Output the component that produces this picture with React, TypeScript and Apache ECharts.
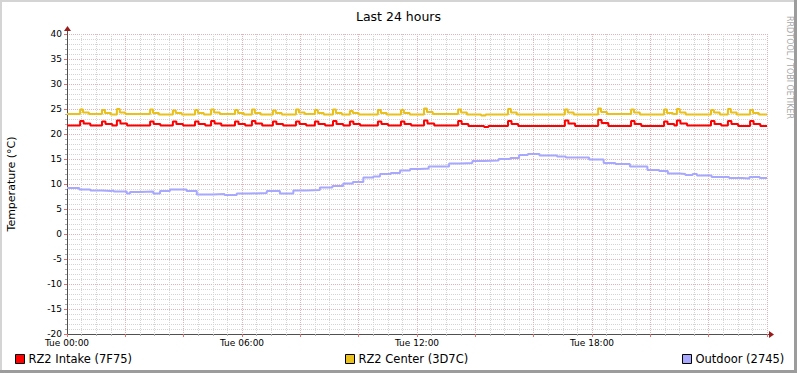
import React, { useEffect, useRef } from "react";
import * as echarts from "echarts";

const titleText = "Last 24 hours";
const yTitle = "Temperature (°C)";
const watermark = "RRDTOOL / TOBI OETIKER";
const xTickLabels = ["Tue 00:00", "Tue 06:00", "Tue 12:00", "Tue 18:00"];
const seriesNames = ["RZ2 Intake (7F75)", "RZ2 Center (3D7C)", "Outdoor (2745)"];
const seriesColors = ["#FF0000", "#EAC01A", "#A8A8FF"];

// [hour, °C] change points (step lines)
const intake: number[][] = [
  [0, 21.7],
  [0.45, 22.6], [0.57, 22.1], [0.8, 21.7],
  [1.2, 22.5], [1.32, 22.0], [1.55, 21.7],
  [1.71, 22.7], [1.83, 22.1], [2.06, 21.7],
  [2.85, 22.5], [2.97, 22.0], [3.2, 21.7],
  [3.63, 22.5], [3.75, 22.0], [3.98, 21.7],
  [4.39, 22.5], [4.51, 22.0], [4.74, 21.7],
  [4.94, 22.6], [5.06, 22.1], [5.29, 21.7],
  [5.76, 22.5], [5.88, 22.0], [6.11, 21.7],
  [6.34, 22.6], [6.46, 22.1], [6.69, 21.7],
  [7.06, 22.5], [7.18, 22.0], [7.41, 21.7],
  [7.85, 22.5], [7.97, 22.0], [8.2, 21.7],
  [8.5, 22.5], [8.62, 22.0], [8.85, 21.7],
  [9.12, 22.6], [9.24, 22.0], [9.47, 21.7],
  [9.7, 22.5], [9.82, 22.0], [10.05, 21.7],
  [10.66, 22.5], [10.78, 22.0], [11.01, 21.7],
  [11.45, 22.5], [11.57, 22.0], [11.8, 21.7],
  [12.24, 22.7], [12.36, 22.1], [12.59, 21.7],
  [13.41, 22.6], [13.53, 22.0], [13.76, 21.6],
  [14.3, 21.4], [14.45, 21.6],
  [15.12, 22.6], [15.24, 22.0], [15.47, 21.6],
  [17.07, 22.7], [17.19, 22.1], [17.42, 21.6],
  [18.21, 22.8], [18.33, 22.2], [18.56, 21.6],
  [19.34, 22.6], [19.46, 22.0], [19.69, 21.6],
  [20.47, 22.5], [20.59, 22.0], [20.82, 21.7],
  [20.91, 22.7], [21.03, 22.1], [21.26, 21.7],
  [22.08, 22.6], [22.2, 22.0], [22.43, 21.7],
  [22.66, 22.6], [22.78, 22.0], [23.01, 21.6],
  [23.42, 22.6], [23.54, 22.0], [23.77, 21.6],
  [24, 21.6],
];

const center: number[][] = [
  [0, 24.0],
  [0.45, 24.9], [0.55, 24.3], [0.75, 24.0],
  [1.2, 24.8], [1.3, 24.2], [1.5, 23.9],
  [1.71, 25.0], [1.81, 24.3], [2.0, 24.0],
  [2.85, 24.9], [2.95, 24.2], [3.15, 23.9],
  [3.63, 24.7], [3.73, 24.2], [3.93, 23.9],
  [4.39, 24.8], [4.49, 24.2], [4.69, 23.9],
  [4.94, 24.9], [5.04, 24.3], [5.24, 24.0],
  [5.76, 24.8], [5.86, 24.2], [6.06, 23.9],
  [6.34, 24.9], [6.44, 24.2], [6.64, 23.9],
  [7.06, 24.7], [7.16, 24.2], [7.36, 23.9],
  [7.85, 24.9], [7.95, 24.3], [8.15, 24.0],
  [8.5, 24.8], [8.6, 24.2], [8.8, 23.9],
  [9.12, 24.9], [9.22, 24.2], [9.42, 23.9],
  [9.7, 24.6], [9.8, 24.2], [10.0, 23.9],
  [10.66, 24.8], [10.76, 24.2], [10.96, 23.9],
  [11.45, 24.8], [11.55, 24.2], [11.75, 23.9],
  [12.24, 25.1], [12.34, 24.4], [12.54, 24.0],
  [13.41, 24.9], [13.51, 24.3], [13.71, 23.9],
  [14.2, 23.7], [14.35, 23.9],
  [15.12, 25.0], [15.22, 24.3], [15.42, 23.9],
  [17.07, 24.9], [17.17, 24.3], [17.37, 23.9],
  [18.21, 25.1], [18.31, 24.4], [18.51, 24.0],
  [19.34, 24.9], [19.44, 24.3], [19.64, 23.9],
  [20.47, 24.9], [20.57, 24.2], [20.77, 24.0],
  [20.91, 25.0], [21.01, 24.3], [21.21, 23.9],
  [22.08, 24.8], [22.18, 24.3], [22.38, 23.9],
  [22.66, 25.0], [22.76, 24.3], [22.96, 23.9],
  [23.42, 24.8], [23.52, 24.2], [23.72, 23.9],
  [24, 23.9],
];

const outdoor: number[][] = [
  [0, 9.2], [0.42, 8.9], [0.8, 8.7], [1.2, 8.6], [1.5, 8.7], [1.6, 8.5],
  [2.05, 8.1], [2.16, 8.4], [2.5, 8.5], [2.96, 8.1], [3.19, 8.6], [3.53, 8.9],
  [4.1, 8.6], [4.45, 7.9], [5.0, 8.0], [5.4, 7.8], [5.82, 8.1], [6.27, 8.2],
  [6.85, 8.6], [7.3, 8.1], [7.76, 8.7], [8.2, 8.8], [8.67, 9.3], [9.1, 9.6],
  [9.47, 10.1], [9.8, 10.4], [10.16, 11.3], [10.5, 11.5], [10.73, 12.0],
  [11.1, 12.2], [11.42, 12.7], [11.76, 13.0], [12.1, 13.1], [12.4, 13.5],
  [13.1, 14.1], [13.5, 14.2], [13.9, 14.6], [14.3, 14.7], [14.8, 15.0],
  [15.2, 15.2], [15.5, 15.8], [15.8, 16.0], [16.2, 15.7], [16.8, 15.5],
  [17.1, 15.3], [17.9, 14.9], [18.4, 14.2], [18.8, 14.0], [19.3, 13.5],
  [19.9, 12.8], [20.3, 12.6], [20.6, 12.1], [21.0, 12.0], [21.2, 11.8],
  [21.45, 12.0], [21.6, 11.7], [22.1, 11.4], [22.7, 11.2], [23.15, 11.1],
  [23.4, 11.4], [23.75, 11.2], [24, 11.2],
];

const seriesData = [intake, center, outdoor];

const FONT = "DejaVu Sans";

export default function App() {
  const ref = useRef<HTMLDivElement>(null);
  useEffect(() => {
    document.body.style.margin = "0";
    const chart = echarts.init(ref.current!, null, { renderer: "svg" });
    const legendLefts = [15, 345, 682];
    chart.setOption({
      animation: false,
      backgroundColor: "#FFFFFF",
      title: {
        text: titleText,
        left: "center",
        top: 5,
        textStyle: { fontFamily: FONT, fontSize: 12.5, fontWeight: "normal", color: "#000" },
      },
      legend: seriesNames.map((n, i) => ({
        data: [n],
        left: legendLefts[i],
        top: 353,
        padding: 0,
        icon: "rect",
        itemWidth: 9,
        itemHeight: 9,
        selectedMode: false,
        itemStyle: { borderColor: "#000", borderWidth: 1 },
        textStyle: { fontFamily: FONT, fontSize: 11.5, color: "#000", padding: [0, 0, 0, -1] },
      })),
      grid: { left: 67, top: 34, right: 30, bottom: 39, containLabel: false, outerBoundsMode: "none" },
      xAxis: {
        type: "value",
        min: 0,
        max: 24,
        interval: 2,
        axisLine: { show: true, onZero: false, lineStyle: { color: "#505050", width: 1 } },
        axisTick: { show: true, length: 3, lineStyle: { color: "#E07070" } },
        minorTick: { show: true, splitNumber: 4, length: 2, lineStyle: { color: "#B0B0B0" } },
        splitLine: { show: true, lineStyle: { color: "#E8B0B0", type: [1, 1], width: 1 } },
        minorSplitLine: { show: true, lineStyle: { color: "#D4D4D4", type: [1, 1], width: 1 } },
        axisLabel: {
          margin: 4,
          fontFamily: FONT,
          fontSize: 9,
          color: "#000",
          formatter: (v: number) => (v % 6 === 0 && v < 24 ? xTickLabels[v / 6] : ""),
        },
      },
      yAxis: {
        type: "value",
        min: -20,
        max: 40,
        interval: 5,
        name: yTitle,
        nameLocation: "middle",
        nameGap: 50,
        nameTextStyle: { fontFamily: FONT, fontSize: 11, color: "#000" },
        axisLine: { show: true, onZero: false, lineStyle: { color: "#505050", width: 1 } },
        axisTick: { show: true, length: 3, lineStyle: { color: "#E07070" } },
        minorTick: { show: true, splitNumber: 5, length: 2, lineStyle: { color: "#B0B0B0" } },
        splitLine: { show: true, lineStyle: { color: "#E8B0B0", type: [1, 1], width: 1 } },
        minorSplitLine: { show: true, lineStyle: { color: "#D4D4D4", type: [1, 1], width: 1 } },
        axisLabel: { margin: 5, fontFamily: FONT, fontSize: 9, color: "#000" },
      },
      series: seriesNames.map((n, i) => ({
        name: n,
        type: "line",
        step: "end",
        data: seriesData[i],
        showSymbol: false,
        symbol: "none",
        color: seriesColors[i],
        lineStyle: { color: seriesColors[i], width: 2 },
        z: 3 + i,
      })),
      graphic: [
        { type: "rect", shape: { x: 0, y: 0, width: 797, height: 2 }, style: { fill: "#D4D4D4" }, silent: true },
        { type: "rect", shape: { x: 0, y: 0, width: 2, height: 373 }, style: { fill: "#D4D4D4" }, silent: true },
        { type: "rect", shape: { x: 794, y: 0, width: 3, height: 373 }, style: { fill: "#9C9C9C" }, silent: true },
        { type: "rect", shape: { x: 0, y: 370, width: 797, height: 3 }, style: { fill: "#9C9C9C" }, silent: true },
        { type: "line", shape: { x1: 67.5, y1: 34, x2: 67.5, y2: 30 }, style: { stroke: "#505050", lineWidth: 1 } },
        { type: "line", shape: { x1: 767, y1: 334.5, x2: 770, y2: 334.5 }, style: { stroke: "#505050", lineWidth: 1 } },
        { type: "polygon", shape: { points: [[64, 31], [71, 31], [67.5, 26]] }, style: { fill: "#9B1B1B" }, z: 10 },
        { type: "polygon", shape: { points: [[769, 331], [769, 338], [774, 334.5]] }, style: { fill: "#9B1B1B" }, z: 10 },
        {
          type: "text",
          x: 793,
          y: 16,
          rotation: -Math.PI / 2,
          style: { text: watermark, fill: "#A8A8A8", font: `8px ${FONT}`, textAlign: "left", textVerticalAlign: "top" },
          silent: true,
        },
      ],
    });
    return () => chart.dispose();
  }, []);
  return <div ref={ref} style={{ width: 797, height: 373 }} />;
}
